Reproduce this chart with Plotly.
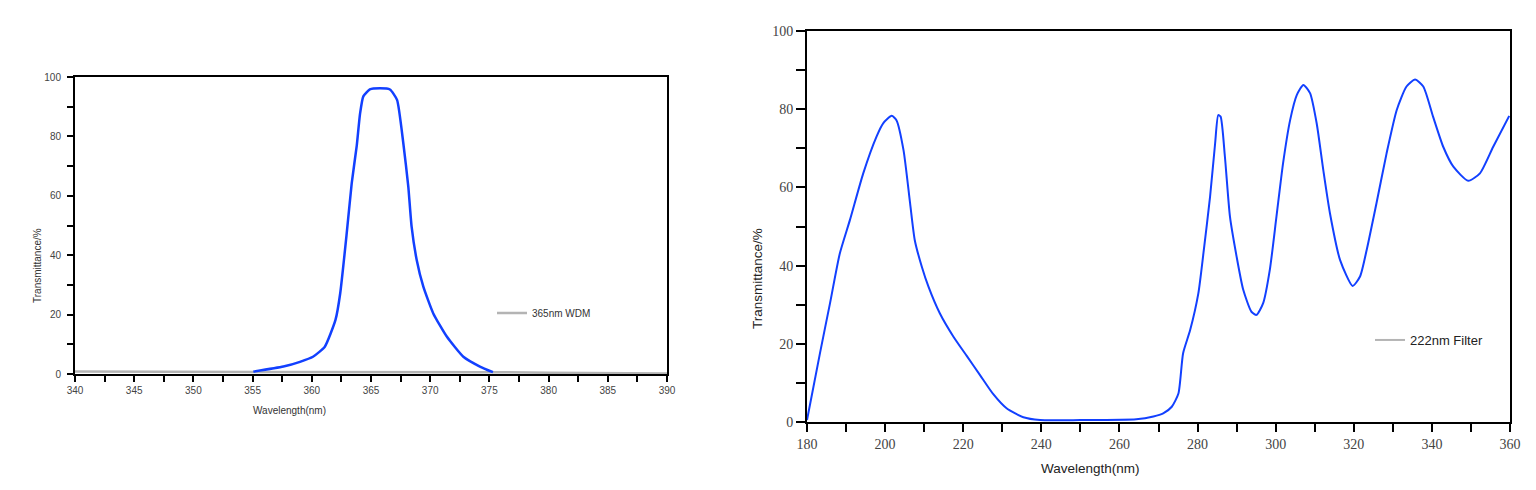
import plotly.graph_objects as go

# ---------------- Left chart: 365nm WDM ----------------
wdm_base_x = [340, 345, 350, 355, 375.3, 380, 385, 390]
wdm_base_y = [0.8, 0.8, 0.8, 0.8, 0.6, 0.45, 0.3, 0.2]

wdm_x = [355.06, 357.6, 359.0, 360.1, 361.1, 362.0, 362.4, 362.95, 363.37, 363.8,
         364.07, 364.35, 364.9, 365.76, 366.6, 367.2, 367.73, 368.15, 368.43, 368.86,
         369.42, 370.26, 371.4, 372.8, 374.2, 375.3]
wdm_y = [0.8, 2.5, 4.1, 5.8, 9.2, 18.2, 27.2, 47.4, 64.2, 77.0,
         87.5, 93.5, 95.8, 96.2, 95.8, 92.3, 77.7, 63.1, 49.6, 38.4,
         29.4, 20.4, 12.6, 5.8, 2.5, 0.6]

# ---------------- Right chart: 222nm Filter ----------------
flt_x = [180, 183.3, 185.9, 188.4, 191.0, 194.4, 197.8, 199.5, 201.7, 202.9,
         204.7, 206.4, 207.6, 209.4, 211.1, 214.0, 217.5, 220.9, 224.3, 227.7,
         231.1, 235.4, 239.7, 250, 264.3, 268.7, 271.2, 273.4, 275.1, 276.3,
         278.1, 280.2, 281.5, 283.2, 284.5, 285.3, 285.9, 287.0, 288.3, 290.0,
         291.7, 293.8, 295.1, 296.8, 298.5, 300.2, 301.9, 303.7, 305.4, 307.1,
         308.8, 310.5, 312.2, 313.9, 316.5, 319.7, 321.6, 323.3, 325.8, 328.4,
         331.0, 333.5, 335.7, 337.8, 340.3, 342.9, 345.5, 349.3, 352.3, 355.7,
         359.8]
flt_y = [0.5, 17.5, 30.4, 43.1, 51.7, 63.6, 73.0, 76.4, 78.3, 77.2,
         69.6, 55.9, 46.5, 39.7, 34.6, 27.8, 21.8, 16.9, 12.0, 7.1,
         3.5, 1.2, 0.5, 0.5, 0.7, 1.4, 2.2, 3.9, 7.3, 17.6,
         23.5, 32.9, 43.1, 57.6, 71.3, 78.5, 78.1, 67.9, 52.5, 42.3,
         33.8, 28.2, 27.4, 30.4, 38.9, 52.5, 66.2, 77.2, 83.6, 86.2,
         84.1, 76.4, 64.4, 53.4, 41.4, 34.8, 37.2, 44.0, 55.9, 68.7,
         79.8, 85.8, 87.6, 85.8, 78.1, 70.4, 65.3, 61.7, 63.6, 70.4,
         78.3]

BLUE = "#1240ff"
GRAY = "#b4b4b4"

fig = go.Figure()

fig.add_trace(go.Scatter(x=wdm_base_x, y=wdm_base_y, mode="lines", name="365nm WDM",
                         line=dict(color=GRAY, width=2.5), xaxis="x", yaxis="y",
                         legend="legend"))
fig.add_trace(go.Scatter(x=wdm_x, y=wdm_y, mode="lines", showlegend=False,
                         line=dict(color=BLUE, width=2.5, shape="spline", smoothing=0.5),
                         xaxis="x", yaxis="y"))

fig.add_trace(go.Scatter(x=[None], y=[None], mode="lines", name="222nm Filter",
                         line=dict(color=GRAY, width=2), xaxis="x2", yaxis="y2",
                         legend="legend2"))
fig.add_trace(go.Scatter(x=flt_x, y=flt_y, mode="lines", showlegend=False,
                         line=dict(color=BLUE, width=2, shape="spline", smoothing=0.6),
                         xaxis="x2", yaxis="y2"))

W, H = 1536, 490
OFF = 8  # page body margin offset
ML, MR, MT, MB = 20, 10, 10, 10
PW, PH = W - ML - MR, H - MT - MB


def px_x(p):
    return (p - OFF - ML) / PW


def px_y(p):
    return 1 - (p - OFF - MT) / PH


small_font = dict(family="Liberation Sans, Arial, sans-serif", size=10, color="#444")
big_tick_font = dict(family="Liberation Serif, Times New Roman, serif", size=14, color="#444")

fig.update_layout(
    width=W, height=H,
    margin=dict(l=ML, r=MR, t=MT, b=MB, autoexpand=False),
    paper_bgcolor="white", plot_bgcolor="white",
    xaxis=dict(domain=[px_x(75), px_x(667)], range=[340, 390], dtick=5, tick0=340,
               showline=True, linecolor="black", linewidth=2, mirror=True,
               ticks="outside", ticklen=6, tickwidth=2, tickcolor="black",
               minor=dict(dtick=2.5, ticks="outside", ticklen=6, tickwidth=2, tickcolor="black"),
               showgrid=False, zeroline=False, tickfont=small_font, anchor="y"),
    yaxis=dict(domain=[px_y(374), px_y(77)], range=[0, 100], dtick=20, tick0=0,
               showline=True, linecolor="black", linewidth=2, mirror=True,
               ticks="outside", ticklen=6, tickwidth=2, tickcolor="black",
               minor=dict(dtick=10, ticks="outside", ticklen=6, tickwidth=2, tickcolor="black"),
               showgrid=False, zeroline=False, tickfont=small_font, anchor="x",
               ticklabelstandoff=4),
    xaxis2=dict(domain=[px_x(807), px_x(1510)], range=[180, 360], dtick=20, tick0=180,
                showline=True, linecolor="black", linewidth=2, mirror=True,
                ticks="outside", ticklen=8, tickwidth=2, tickcolor="black",
                minor=dict(dtick=10, ticks="outside", ticklen=8, tickwidth=2, tickcolor="black"),
                showgrid=False, zeroline=False, tickfont=big_tick_font, anchor="y2"),
    yaxis2=dict(domain=[px_y(422), px_y(31)], range=[0, 100], dtick=20, tick0=0,
                showline=True, linecolor="black", linewidth=2, mirror=True,
                ticks="outside", ticklen=9, tickwidth=2, tickcolor="black",
                minor=dict(dtick=10, ticks="outside", ticklen=9, tickwidth=2, tickcolor="black"),
                showgrid=False, zeroline=False, tickfont=big_tick_font, anchor="x2"),
    legend=dict(x=px_x(492), y=px_y(313), xanchor="left", yanchor="middle",
                bgcolor="rgba(0,0,0,0)", font=dict(family="Liberation Sans, Arial, sans-serif",
                                                  size=10, color="#333"),
                itemwidth=30),
    legend2=dict(x=px_x(1370), y=px_y(340), xanchor="left", yanchor="middle",
                 bgcolor="rgba(0,0,0,0)", font=dict(family="Liberation Sans, Arial, sans-serif",
                                                   size=13, color="#222"),
                 itemwidth=30),
    annotations=[
        dict(text="Transmittance/%", x=px_x(37), y=px_y(266), xref="paper", yref="paper",
             textangle=-90, showarrow=False, xanchor="center", yanchor="middle",
             font=dict(family="Liberation Sans, Arial, sans-serif", size=10, color="#333")),
        dict(text="Wavelength(nm)", x=px_x(289), y=px_y(410), xref="paper", yref="paper",
             showarrow=False, xanchor="center", yanchor="middle",
             font=dict(family="Liberation Sans, Arial, sans-serif", size=10, color="#333")),
        dict(text="Transmittance/%", x=px_x(757), y=px_y(279), xref="paper", yref="paper",
             textangle=-90, showarrow=False, xanchor="center", yanchor="middle",
             font=dict(family="Liberation Sans, Arial, sans-serif", size=13.5, color="#222")),
        dict(text="Wavelength(nm)", x=px_x(1090), y=px_y(468), xref="paper", yref="paper",
             showarrow=False, xanchor="center", yanchor="middle",
             font=dict(family="Liberation Sans, Arial, sans-serif", size=13.5, color="#222")),
    ],
)

fig.write_html("out.html")
